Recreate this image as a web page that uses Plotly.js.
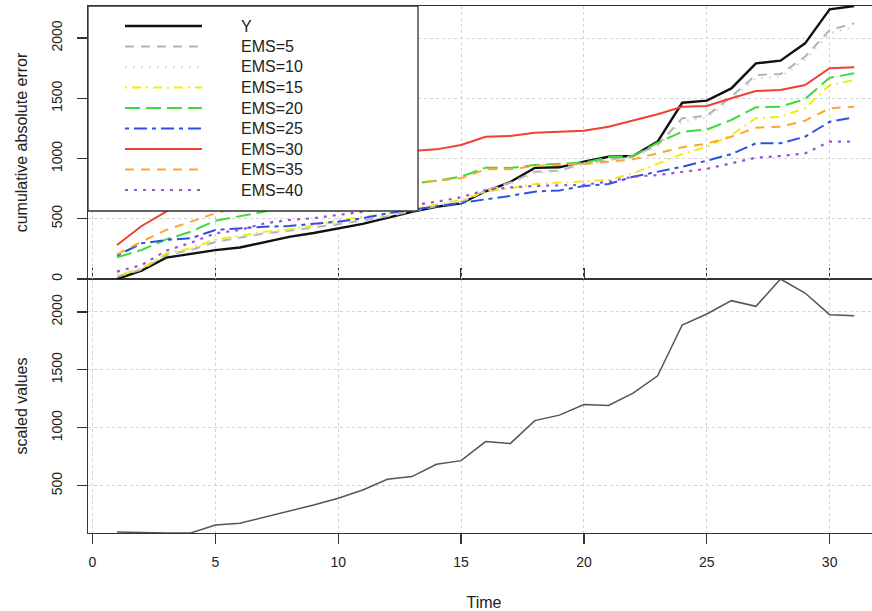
<!DOCTYPE html>
<html>
<head>
<meta charset="utf-8">
<script src="https://cdn.plot.ly/plotly-3.0.1.min.js"></script>
<style>
html,body{margin:0;padding:0;overflow:hidden;background:#fff;width:872px;height:611px;}
#chart{width:880px;height:611px;}
</style>
</head>
<body>
<div id="chart"></div>
<script>
// ---- data ----
var time = [1,2,3,4,5,6,7,8,9,10,11,12,13,14,15,16,17,18,19,20,21,22,23,24,25,26,27,28,29,30,31];

var seriesNames = ["Y","EMS=5","EMS=10","EMS=15","EMS=20","EMS=25","EMS=30","EMS=35","EMS=40"];

var Y      = [0, 70, 177, 207, 240, 262, 305, 350, 382, 418, 458, 508, 558, 600, 628, 728, 805, 922, 927, 974, 1015, 1021, 1140, 1463, 1480, 1582, 1790, 1812, 1956, 2238, 2266];
var EMS5   = [18, 78, 199, 241, 308, 344, 379, 400, 425, 455, 485, 520, 563, 603, 635, 735, 800, 891, 899, 960, 988, 1021, 1112, 1334, 1354, 1513, 1693, 1701, 1845, 2066, 2122];
var EMS10  = [25, 85, 205, 248, 315, 350, 385, 405, 432, 460, 492, 525, 568, 606, 640, 730, 790, 880, 890, 950, 980, 1012, 1100, 1310, 1340, 1490, 1665, 1680, 1820, 2040, 2095];
var EMS15  = [30, 89, 213, 255, 329, 357, 393, 412, 445, 488, 515, 540, 580, 615, 656, 725, 752, 788, 799, 808, 822, 877, 960, 1037, 1098, 1195, 1334, 1347, 1417, 1610, 1651];
var EMS20  = [180, 241, 329, 393, 484, 523, 559, 595, 635, 672, 710, 748, 790, 815, 849, 924, 922, 946, 954, 965, 1010, 1021, 1131, 1222, 1240, 1320, 1425, 1430, 1494, 1671, 1707];
var EMS25  = [195, 296, 324, 338, 407, 421, 434, 440, 455, 476, 505, 545, 575, 603, 628, 661, 690, 725, 735, 772, 788, 849, 891, 932, 982, 1037, 1126, 1126, 1181, 1305, 1342];
var EMS30  = [282, 440, 560, 650, 720, 780, 830, 875, 915, 950, 990, 1025, 1062, 1076, 1112, 1181, 1187, 1214, 1222, 1231, 1264, 1314, 1367, 1430, 1436, 1500, 1560, 1568, 1610, 1749, 1757];
var EMS35  = [205, 310, 407, 476, 545, 600, 640, 680, 710, 735, 755, 775, 795, 810, 836, 910, 910, 938, 946, 954, 974, 993, 1043, 1093, 1123, 1181, 1256, 1264, 1314, 1417, 1430];
var EMS40  = [61, 116, 235, 301, 379, 407, 462, 490, 505, 531, 558, 588, 612, 642, 678, 739, 760, 772, 780, 782, 808, 849, 863, 891, 915, 960, 1007, 1021, 1043, 1140, 1140];

var scaledValues = [100, 93, 91, 91, 160, 175, 227, 278, 333, 391, 463, 555, 578, 685, 716, 881, 863, 1062, 1109, 1201, 1192, 1299, 1449, 1888, 1983, 2098, 2049, 2285, 2164, 1977, 1968];

var xTicks = [0,5,10,15,20,25,30];
var topTicks = [0,500,1000,1500,2000];
var bottomTicks = [500,1000,1500,2000];

// ---- styles ----
var seriesData = [Y, EMS5, EMS10, EMS15, EMS20, EMS25, EMS30, EMS35, EMS40];
var styles = [
  {color:"#111111", dash:"solid", width:2.4},
  {color:"#b3b3b3", dash:"9px,7px", width:2},
  {color:"#d9d9d9", dash:"2px,6px", width:2},
  {color:"#eeee10", dash:"2px,5px,9px,5px", width:2},
  {color:"#3ddc3d", dash:"15px,6px", width:2},
  {color:"#2e4fe6", dash:"4px,5px,13px,5px", width:2},
  {color:"#f04030", dash:"solid", width:2},
  {color:"#ffa531", dash:"9px,7px", width:2},
  {color:"#9a4fe0", dash:"3px,6px", width:2.2}
];

var FONT = "Liberation Sans, Arial, Helvetica, sans-serif";

var traces = [];
for (var i = 0; i < seriesData.length; i++) {
  traces.push({
    x: time, y: seriesData[i], type: "scatter", mode: "lines",
    name: seriesNames[i], xaxis: "x", yaxis: "y2",
    line: {color: styles[i].color, dash: styles[i].dash, width: styles[i].width},
    showlegend: false, hoverinfo: "skip"
  });
}
traces.push({
  x: time, y: scaledValues, type: "scatter", mode: "lines",
  name: "scaled values", xaxis: "x", yaxis: "y",
  line: {color: "#555555", width: 1.5}, showlegend: false, hoverinfo: "skip"
});

// pixel geometry helpers (plot area: x 88..880, y 6..533)
var L = 88, R = 880, T = 6, B = 533;
function px(xp){ return (xp - L) / (R - L); }
function py(yp){ return (B - yp) / (B - T); }

var split = py(279);

// manual legend (wide R-style samples)
var shapes = [{
  type: "rect", xref: "paper", yref: "paper",
  x0: px(88), x1: px(418), y0: py(211), y1: py(6),
  fillcolor: "#ffffff", line: {color: "#333333", width: 1.3}, layer: "above"
}];
var annotations = [];
for (var k = 0; k < seriesNames.length; k++) {
  var rowY = py(26 + k * 20.5);
  shapes.push({
    type: "line", xref: "paper", yref: "paper",
    x0: px(125), x1: px(202), y0: rowY, y1: rowY,
    line: {color: styles[k].color, dash: styles[k].dash, width: styles[k].width}, layer: "above"
  });
  annotations.push({
    xref: "paper", yref: "paper", x: px(239), y: rowY,
    xanchor: "left", yanchor: "middle", showarrow: false,
    text: seriesNames[k], font: {family: FONT, size: 16, color: "#222222"}
  });
}

var axisCommon = {
  showline: true, linecolor: "#333333", linewidth: 1.3, mirror: "all",
  ticks: "outside", ticklen: 10, tickwidth: 1.2, tickcolor: "#333333",
  showgrid: true, gridcolor: "#d2d2d2", griddash: "dot", gridwidth: 1,
  zeroline: false, tickfont: {family: FONT, size: 14, color: "#222222"},
  automargin: false, fixedrange: true
};

var layout = {
  width: 880, height: 611,
  margin: {l: L, r: 0, t: T, b: 611 - B},
  paper_bgcolor: "#ffffff", plot_bgcolor: "#ffffff",
  font: {family: FONT, color: "#222222"},
  showlegend: false,
  xaxis: Object.assign({}, axisCommon, {
    anchor: "y", range: [-0.183, 32.05], tickmode: "array", tickvals: xTicks,
    ticktext: xTicks.map(String), ticklabelstandoff: 6,
    title: {text: "Time", font: {family: FONT, size: 16, color: "#222222"}, standoff: 28}
  }),
  yaxis: Object.assign({}, axisCommon, {
    anchor: "x", domain: [0, split], range: [91, 2285], tickmode: "array",
    tickvals: bottomTicks, ticktext: bottomTicks.map(String), tickangle: -90,
    ticklabelstandoff: 9,
    title: {text: "scaled values", font: {family: FONT, size: 16, color: "#222222"}, standoff: 17}
  }),
  yaxis2: Object.assign({}, axisCommon, {
    anchor: "x", domain: [split, 1], range: [0, 2266], tickmode: "array",
    tickvals: topTicks, ticktext: topTicks.map(String), tickangle: -90,
    ticklabelstandoff: 9,
    title: {text: "cumulative absolute error", font: {family: FONT, size: 16, color: "#222222"}, standoff: 17}
  }),
  shapes: shapes,
  annotations: annotations
};

Plotly.newPlot("chart", traces, layout, {staticPlot: true, displayModeBar: false});
</script>
</body>
</html>
